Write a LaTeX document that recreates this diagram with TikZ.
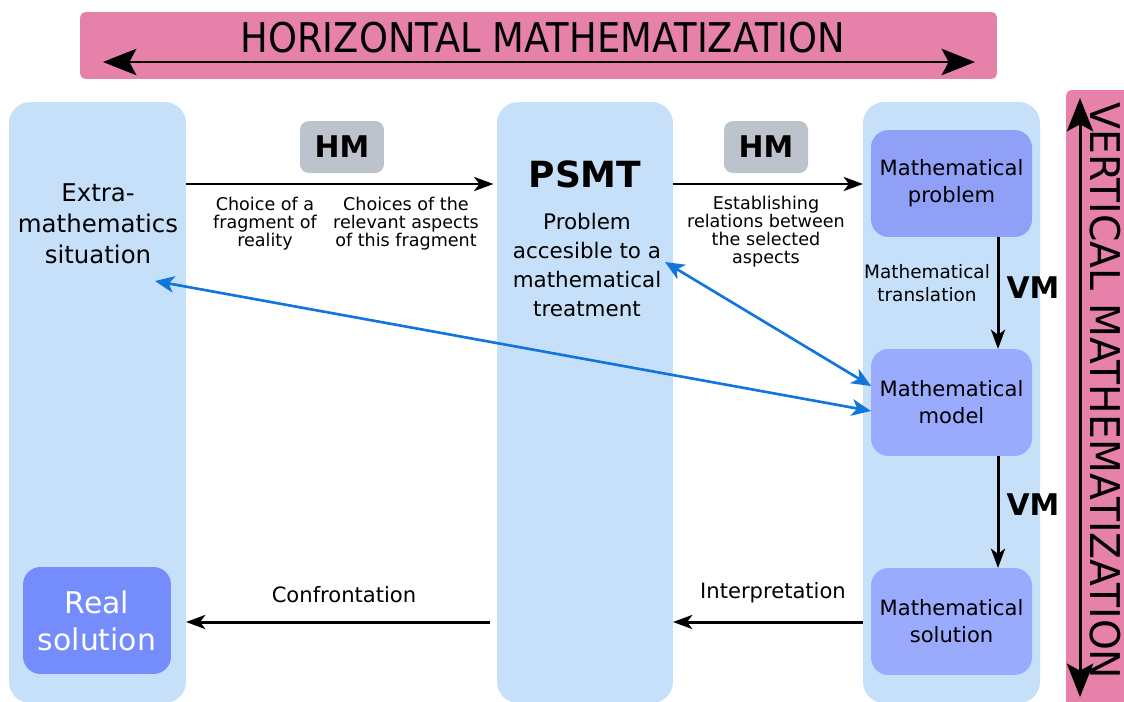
\documentclass[tikz,border=0pt]{standalone}
\usepackage{fontspec}
\setmainfont{DejaVu Sans}
\usetikzlibrary{arrows.meta,calc}
\definecolor{mypink}{RGB}{230,130,170}
\definecolor{mycol}{RGB}{198,224,249}
\definecolor{mygray}{RGB}{189,195,204}
\definecolor{myprob}{RGB}{143,160,246}
\definecolor{mymodel}{RGB}{154,170,252}
\definecolor{myreal}{RGB}{117,141,252}
\definecolor{myblue}{RGB}{17,117,222}

\tikzset{
    column/.style={fill=mycol, rounded corners=12pt, minimum width=3.54cm,
        minimum height=12.02cm, inner sep=0pt, outer sep=0pt},
    banner/.style={fill=mypink, rounded corners=3pt, inner sep=0pt, outer sep=0pt},
    bannertext/.style={inner sep=0pt, font=\fontsize{23.3}{26}\selectfont},
    hmbox/.style={fill=mygray, rounded corners=5pt, minimum width=1.68cm,
        minimum height=1.04cm, inner sep=0pt, font=\fontsize{17}{20}\selectfont\bfseries},
    vmlabel/.style={inner sep=0pt, font=\fontsize{17}{20}\selectfont\bfseries},
    mathbox/.style={rounded corners=10pt, minimum width=3.22cm, minimum height=2.14cm,
        inner sep=0pt, outer sep=0pt, align=center, font=\fontsize{12}{15.4}\selectfont},
    small/.style={inner sep=0pt, align=center, font=\fontsize{10}{10.3}\selectfont},
    flow/.style={-{Stealth[length=11pt, width=8pt, inset=3pt]}, line width=1.7pt},
    link/.style={{Stealth[length=11pt, width=9.5pt, inset=3pt]}-{Stealth[length=11pt, width=9.5pt, inset=3pt]},
        line width=1.5pt, myblue},
    bigarrow/.style={{Stealth[length=19pt, width=15pt, inset=4pt]}-{Stealth[length=19pt, width=15pt, inset=4pt]},
        line width=1.7pt}
}

\begin{document}
\begin{tikzpicture}[x=0.02cm, y=-0.02cm]
    \useasboundingbox (0, 0) rectangle (1124, 702);

    % Banners
    \node[banner, minimum width=18.34cm, minimum height=1.34cm] (hBanner) at (538.5, 45.5) {};
    \node[bannertext] (hText) at (543, 38) {\scalebox{0.9}[1]{HORIZONTAL MATHEMATIZATION}};
    \coordinate (hL) at (103, 62);
    \coordinate (hR) at (975, 62);
    \draw[bigarrow] (hL) -- (hR);

    \node[banner, minimum width=1.28cm, minimum height=12.44cm] (vBanner) at (1098, 401) {};
    \node[bannertext, rotate=-90] (vText) at (1105, 391) {\scalebox{0.96}[1]{VERTICAL MATHEMATIZATION}};
    \coordinate (vT) at (1080, 98);
    \coordinate (vB) at (1080, 697);
    \draw[bigarrow] (vT) -- (vB);

    % Columns
    \node[column] (colLeft) at (97.5, 402.5) {};
    \node[column, minimum width=3.52cm] (colMid) at (585, 402.5) {};
    \node[column] (colRight) at (951.5, 402.5) {};

    \node[inner sep=0pt, align=center, font=\fontsize{13.9}{17.6}\selectfont]
        (extra) at (98, 224) {Extra-\\mathematics\\situation};
    \node[mathbox, fill=myreal, minimum width=2.96cm, text=white,
        font=\fontsize{17}{21}\selectfont] (real) at (97, 620.5) {Real\\solution};

    \node[inner sep=0pt, font=\fontsize{20.5}{24}\selectfont\bfseries] (psmt) at (585, 174) {PSMT};
    \node[inner sep=0pt, align=center, font=\fontsize{12.2}{16.5}\selectfont]
        (psmtText) at (587, 265) {Problem\\accesible to a\\mathematical\\treatment};

    \node[mathbox, fill=myprob] (problem) at (951.5, 183.5) {Mathematical\\problem};
    \node[mathbox, fill=mymodel] (model) at (951.5, 402.5) {Mathematical\\model};
    \node[mathbox, fill=mymodel] (solution) at (951.5, 621.5) {Mathematical\\solution};

    % Horizontal steps
    \node[hmbox] (hm1) at (342, 147) {HM};
    \node[hmbox] (hm2) at (766, 147) {HM};
    \coordinate (topY) at (0, 184);
    \draw[flow] (colLeft.east |- topY) -- ([xshift=-2]colMid.west |- topY);
    \draw[flow] (colMid.east |- topY) -- (colRight.west |- topY);
    \node[small] (lab1) at (265, 224) {Choice of a\\fragment of\\reality};
    \node[small] (lab2) at (406, 224) {Choices of the\\relevant aspects\\of this fragment};
    \node[small] (lab3) at (766, 232) {Establishing\\relations between\\the selected\\aspects};

    % Vertical steps
    \coordinate (vmX) at (998, 0);
    \draw[flow] (problem.south -| vmX) -- (model.north -| vmX);
    \draw[flow] (model.south -| vmX) -- (solution.north -| vmX);
    \node[vmlabel] (vm1) at (1033, 288) {VM};
    \node[vmlabel] (vm2) at (1033, 505) {VM};
    \node[inner sep=0pt, align=center, font=\fontsize{10.5}{13}\selectfont]
        (transl) at (927, 283) {Mathematical\\translation};

    % Back to reality
    \coordinate (botY) at (0, 622);
    \draw[flow] (colRight.west |- botY) -- (colMid.east |- botY);
    \draw[flow] ([xshift=-4]colMid.west |- botY) -- (colLeft.east |- botY);
    \node[inner sep=0pt, font=\fontsize{12}{14}\selectfont] (interp) at (773, 593) {Interpretation};
    \node[inner sep=0pt, font=\fontsize{12}{14}\selectfont] (confr) at (344, 595) {Confrontation};

    % Links to the model
    \coordinate (sitEnd) at (155, 281);
    \coordinate (psmtEnd) at (665, 262);
    \draw[link] (sitEnd) -- ($(model.west)+(0, 8.5)$);
    \draw[link] (psmtEnd) -- ($(model.west)+(0, -16.5)$);
\end{tikzpicture}
\end{document}
